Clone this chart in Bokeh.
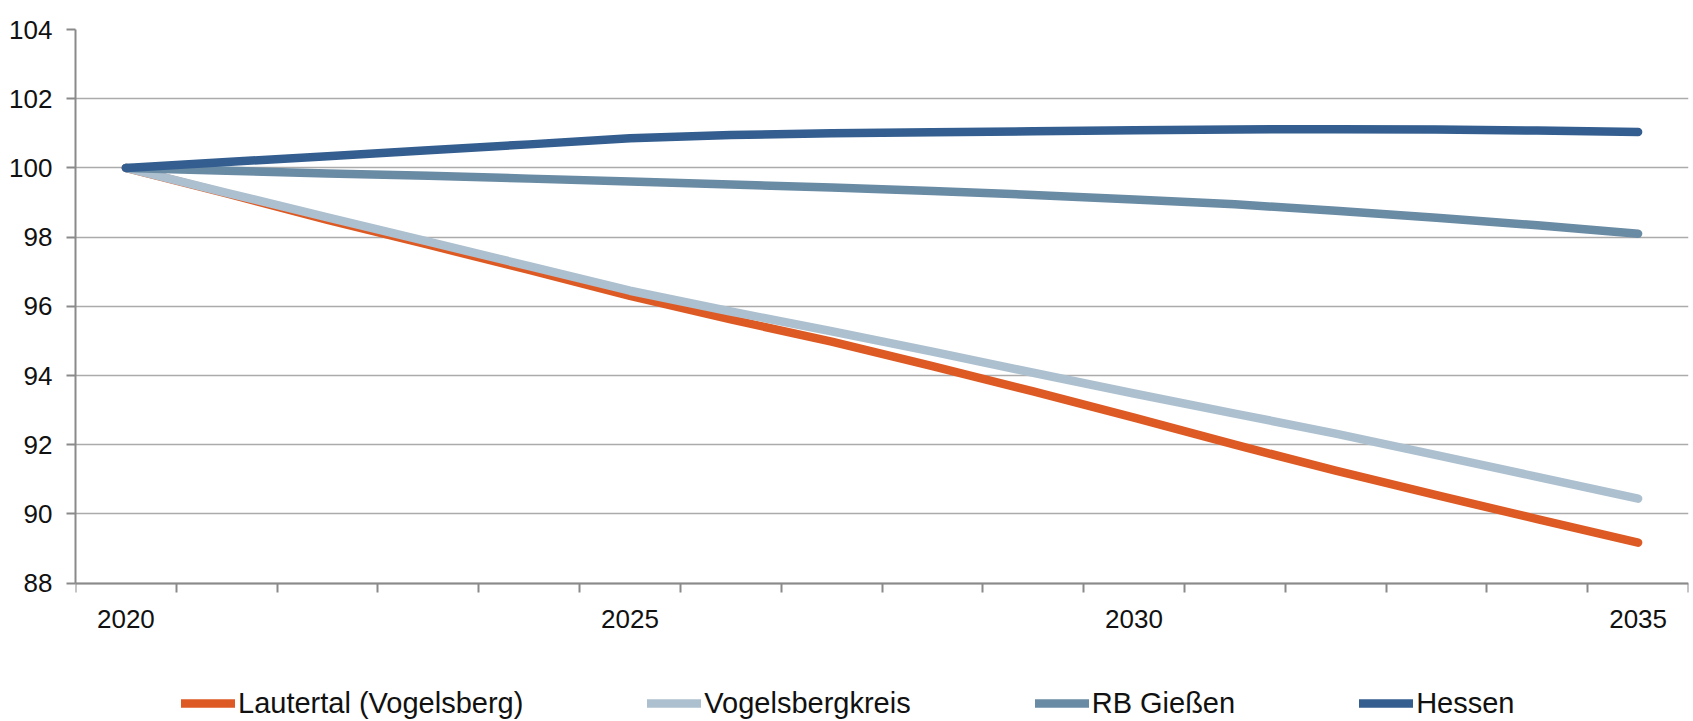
from bokeh.plotting import figure
from bokeh.models import FixedTicker, Legend, LegendItem
from bokeh.embed import file_html
from bokeh.resources import INLINE

# ---- data -------------------------------------------------------------
years = list(range(2020, 2036))
lautertal = [100.0, 99.26, 98.50, 97.78, 97.05, 96.30, 95.62, 94.98, 94.27,
             93.54, 92.78, 92.00, 91.25, 90.54, 89.85, 89.17]
vogelsbergkreis = [100.0, 99.28, 98.57, 97.87, 97.16, 96.45, 95.85, 95.28, 94.69,
                   94.08, 93.48, 92.90, 92.32, 91.70, 91.07, 90.44]
rb_giessen = [100.0, 99.92, 99.84, 99.77, 99.69, 99.61, 99.52, 99.43, 99.33,
              99.22, 99.09, 98.95, 98.76, 98.56, 98.34, 98.10]
hessen = [100.0, 100.17, 100.34, 100.51, 100.68, 100.86, 100.95, 101.00, 101.03,
          101.06, 101.09, 101.11, 101.12, 101.11, 101.08, 101.04]

series_names = ["Lautertal (Vogelsberg)", "Vogelsbergkreis", "RB Gießen", "Hessen"]
series_values = [lautertal, vogelsbergkreis, rb_giessen, hessen]
series_colors = ["#DE5A24", "#ADC0CF", "#6A8BA4", "#335E8F"]

y_ticks = [88, 90, 92, 94, 96, 98, 100, 102, 104]
x_tick_labels = [2020, 2025, 2030, 2035]

# ---- figure -----------------------------------------------------------
FONT = "Liberation Sans"
GRID = "#ABABAB"
AXIS = "#8A8A8A"
Y_BOTTOM = 84.0   # extra room under the value axis for the legend

p = figure(width=1693, height=721,
           x_range=(years[0] - 0.5, years[-1] + 0.5),
           y_range=(Y_BOTTOM, y_ticks[-1]),
           output_backend="svg", toolbar_location=None,
           min_border_left=75, min_border_right=5,
           min_border_top=29, min_border_bottom=0)
p.outline_line_color = None
p.background_fill_color = "white"
p.border_fill_color = "white"

# x axis sits at the lowest value tick; labels every 5 years,
# boundary ticks between the years
p.xaxis.fixed_location = y_ticks[0]
p.xaxis.ticker = FixedTicker(ticks=x_tick_labels,
                             minor_ticks=[y - 0.5 for y in years] + [years[-1] + 0.5])
p.xaxis.major_tick_out = 0
p.xaxis.major_tick_in = 0
p.xaxis.minor_tick_out = 9
p.xaxis.minor_tick_in = 0
p.xaxis.minor_tick_line_color = AXIS
p.xaxis.minor_tick_line_width = 2
p.xaxis.axis_line_color = AXIS
p.xaxis.axis_line_width = 2
p.xaxis.major_label_standoff = 18
p.xaxis.major_label_text_font = FONT
p.xaxis.major_label_text_font_size = "26px"
p.xaxis.major_label_text_color = "#111111"
p.xgrid.grid_line_color = None

# y axis
p.yaxis.ticker = FixedTicker(ticks=y_ticks)
p.yaxis.bounds = (y_ticks[0], y_ticks[-1])
p.yaxis.major_tick_out = 9
p.yaxis.major_tick_in = 0
p.yaxis.minor_tick_line_color = None
p.yaxis.major_tick_line_color = AXIS
p.yaxis.major_tick_line_width = 2
p.yaxis.axis_line_color = AXIS
p.yaxis.axis_line_width = 2
p.yaxis.major_label_standoff = 14
p.yaxis.major_label_text_font = FONT
p.yaxis.major_label_text_font_size = "26px"
p.yaxis.major_label_text_color = "#111111"
p.ygrid.ticker = FixedTicker(ticks=y_ticks)
p.ygrid.grid_line_color = GRID
p.ygrid.grid_line_width = 1.6

# ---- lines ------------------------------------------------------------
renderers = []
for vals, col in zip(series_values, series_colors):
    r = p.line(years, vals, line_color=col, line_width=8.5,
               line_cap="round", line_join="round")
    renderers.append(r)

# ---- legend under the axis ------------------------------------------------
lg = Legend(items=[LegendItem(label=n, renderers=[r]) for n, r in zip(series_names, renderers)],
            location=(106, -2), orientation="horizontal",
            glyph_width=54, glyph_height=40, label_height=40,
            label_standoff=3, padding=0, margin=0, spacing=124,
            border_line_color=None, background_fill_alpha=0,
            label_text_font=FONT, label_text_font_size="29px",
            label_text_color="#111111")
p.add_layout(lg, "center")

open("out.html", "w").write(file_html(p, INLINE))
